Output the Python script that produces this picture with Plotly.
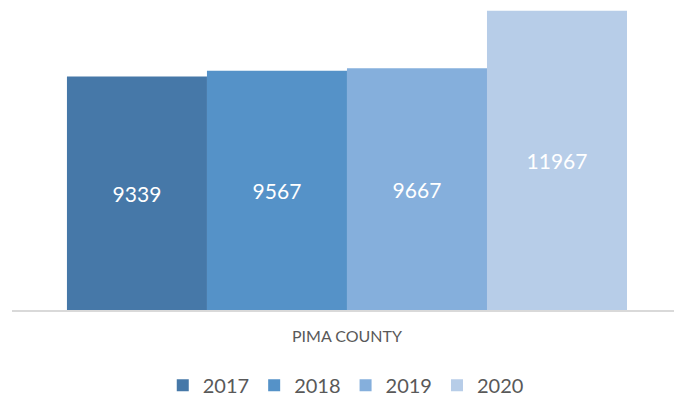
import plotly.graph_objects as go

categories = ["PIMA COUNTY"]
years = ["2017", "2018", "2019", "2020"]
values = [9339, 9567, 9667, 11967]
colors = ["#4678a8", "#5592c8", "#85afdc", "#b7cde8"]

fig = go.Figure()
for yr, v, c in zip(years, values, colors):
    fig.add_trace(go.Bar(
        name=yr, x=categories, y=[v], marker_color=c, marker_line_width=0,
        text=[str(v)], textposition="inside", insidetextanchor="middle",
        textfont=dict(color="white", size=21, family="Lato"),
        textangle=0,
    ))

fig.update_layout(
    width=674, height=400,
    margin=dict(l=12, r=0, t=10, b=90),
    paper_bgcolor="white", plot_bgcolor="white",
    barmode="group", bargap=0.154, bargroupgap=0,
    font=dict(family="Lato", color="#595959"),
    showlegend=True,
    legend=dict(orientation="h", xref="container", yref="container",
                x=0.513, xanchor="center", y=0.037, yanchor="middle",
                font=dict(size=20, color="#595959", family="Lato"),
                itemwidth=30, traceorder="normal"),
)
fig.update_xaxes(range=[-0.506, 0.494], showline=True, linecolor="#d9d9d9",
                 linewidth=1.5, ticks="", showgrid=False,
                 tickfont=dict(size=16, color="#595959", family="Lato"),
                 ticklabelstandoff=11)
fig.update_yaxes(range=[0, 12000], visible=False, showgrid=False)

fig.write_html("out.html", config={"displayModeBar": False},
               post_script="document.body.style.margin='0';document.body.style.overflow='hidden';")
